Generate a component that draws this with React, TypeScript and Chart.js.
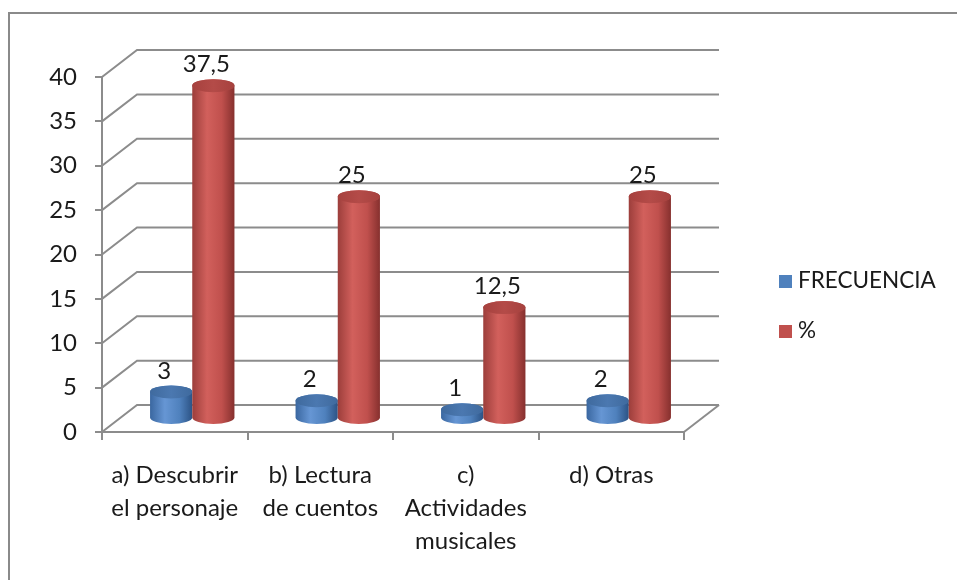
import React, { useEffect, useRef } from 'react';
import { Chart, registerables } from 'chart.js';

Chart.register(...registerables);

// ---- data ----
const categories: string[][] = [
  ['a) Descubrir', 'el personaje'],
  ['b) Lectura', 'de cuentos'],
  ['c)', 'Actividades', 'musicales'],
  ['d) Otras'],
];
const seriesNames = ['FRECUENCIA', '%'];
const frecuencia = [3, 2, 1, 2];
const porcentaje = [37.5, 25, 12.5, 25];
const yMin = 0;
const yMax = 40;
const yStep = 5;

// ---- style ----
const FONT = 'Lato, "Open Sans", sans-serif';
const GRID = '#8c8c8c';
const DX = 35;
const DY = 27;
const RY = 6.5;

const palettes = [
  { base: '#4F81BD', left: '#3a67a0', light: '#6696d4', right: '#2c5385', top: '#3f6a9e', topLight: '#4b78b0' },
  { base: '#C0504D', left: '#9c3e3b', light: '#d2605c', right: '#86302e', top: '#a6413e', topLight: '#b44b48' },
];

function fmt(v: number) {
  return String(v).replace('.', ',');
}

function cylinder(ctx: CanvasRenderingContext2D, cx: number, yTop: number, yBot: number, rx: number, pal: any) {
  const g = ctx.createLinearGradient(cx - rx, 0, cx + rx, 0);
  g.addColorStop(0, pal.left);
  g.addColorStop(0.35, pal.light);
  g.addColorStop(0.7, pal.base);
  g.addColorStop(1, pal.right);
  ctx.beginPath();
  ctx.moveTo(cx - rx, yTop);
  ctx.lineTo(cx - rx, yBot);
  ctx.ellipse(cx, yBot, rx, RY, 0, Math.PI, 0, true);
  ctx.lineTo(cx + rx, yTop);
  ctx.ellipse(cx, yTop, rx, RY, 0, 0, Math.PI, true);
  ctx.closePath();
  ctx.fillStyle = g;
  ctx.fill();
  const gt = ctx.createLinearGradient(cx - rx, 0, cx + rx, 0);
  gt.addColorStop(0, pal.top);
  gt.addColorStop(0.5, pal.topLight);
  gt.addColorStop(1, pal.top);
  ctx.beginPath();
  ctx.ellipse(cx, yTop, rx, RY, 0, 0, Math.PI * 2);
  ctx.fillStyle = gt;
  ctx.fill();
}

const threeD = {
  id: 'threeD',
  beforeDraw(chart: any) {
    const ctx = chart.ctx;
    ctx.save();
    ctx.strokeStyle = '#8a8a8a';
    ctx.lineWidth = 2;
    ctx.strokeRect(9, 13, 2000, 2000);
    ctx.restore();
  },
  beforeDatasetsDraw(chart: any) {
    const ctx = chart.ctx;
    const { left, right, bottom } = chart.chartArea;
    const ys = chart.scales.y;
    ctx.save();
    ctx.strokeStyle = GRID;
    ctx.lineWidth = 2;
    ys.ticks.forEach((t: any) => {
      const y = ys.getPixelForValue(t.value);
      ctx.beginPath();
      ctx.moveTo(left, y);
      ctx.lineTo(left + DX, y - DY);
      ctx.lineTo(right + DX, y - DY);
      ctx.stroke();
    });
    ctx.beginPath();
    ctx.moveTo(right, bottom);
    ctx.lineTo(right + DX, bottom - DY);
    ctx.stroke();
    ctx.restore();
  },
  afterDatasetsDraw(chart: any) {
    const ctx = chart.ctx;
    const labels: any[] = [];
    ctx.save();
    const n = chart.data.labels.length;
    for (let j = 0; j < n; j++) {
      chart.data.datasets.forEach((ds: any, i: number) => {
        const el = chart.getDatasetMeta(i).data[j];
        const cx = el.x + DX / 2;
        const rx = el.width / 2;
        const yTop = el.y - DY / 2;
        const yBot = el.base - DY / 2;
        cylinder(ctx, cx, yTop, yBot, rx, palettes[i]);
        labels.push({ x: cx - 7, y: yTop - 21, t: fmt(ds.data[j]) });
      });
    }
    ctx.fillStyle = '#1a1a1a';
    ctx.font = `24px ${FONT}`;
    ctx.textAlign = 'center';
    ctx.textBaseline = 'middle';
    labels.forEach((l) => ctx.fillText(l.t, l.x, l.y));
    ctx.restore();
  },
  afterDraw(chart: any) {
    const ctx = chart.ctx;
    ctx.save();
    ctx.font = `22.5px ${FONT}`;
    ctx.textAlign = 'left';
    ctx.textBaseline = 'alphabetic';
    const rows = [288, 338];
    chart.data.datasets.forEach((ds: any, i: number) => {
      ctx.fillStyle = palettes[i].base;
      ctx.fillRect(779, rows[i] - 13, 13, 13);
      ctx.fillStyle = '#1a1a1a';
      ctx.fillText(ds.label, 798, rows[i]);
    });
    ctx.restore();
  },
};

export default function App() {
  const ref = useRef<HTMLCanvasElement | null>(null);
  useEffect(() => {
    if (!ref.current) return;
    const chart = new Chart(ref.current, {
      type: 'bar',
      data: {
        labels: categories,
        datasets: [
          { label: seriesNames[0], data: frecuencia, backgroundColor: 'rgba(0,0,0,0)', categoryPercentage: 0.58, barPercentage: 1 },
          { label: seriesNames[1], data: porcentaje, backgroundColor: 'rgba(0,0,0,0)', categoryPercentage: 0.58, barPercentage: 1 },
        ],
      },
      options: {
        responsive: false,
        animation: false,
        events: [],
        layout: { padding: { left: 0, top: 77, right: 273, bottom: 0 } },
        plugins: { legend: { display: false }, tooltip: { enabled: false } },
        scales: {
          x: {
            grid: { drawOnChartArea: false, drawTicks: true, tickLength: 8, color: GRID, lineWidth: 2 },
            border: { display: true, color: GRID, width: 2 },
            ticks: { color: '#1a1a1a', font: { family: FONT, size: 24, lineHeight: 1.375 }, padding: 19, maxRotation: 0, autoSkip: false },
            afterFit: (s: any) => { s.height = 148; },
          },
          y: {
            min: yMin,
            max: yMax,
            grid: { drawOnChartArea: false, drawTicks: true, tickLength: 7, color: GRID, lineWidth: 2 },
            border: { display: true, color: GRID, width: 2 },
            ticks: { stepSize: yStep, color: '#1a1a1a', font: { family: FONT, size: 24 }, padding: 18 },
            afterFit: (s: any) => { s.width = 102; },
          },
        },
      },
      plugins: [threeD],
    });
    return () => chart.destroy();
  }, []);
  return (
    <div style={{ position: 'absolute', left: 0, top: 0, width: 957, height: 580, background: '#fff' }}>
      <canvas ref={ref} width={957} height={580} />
    </div>
  );
}
